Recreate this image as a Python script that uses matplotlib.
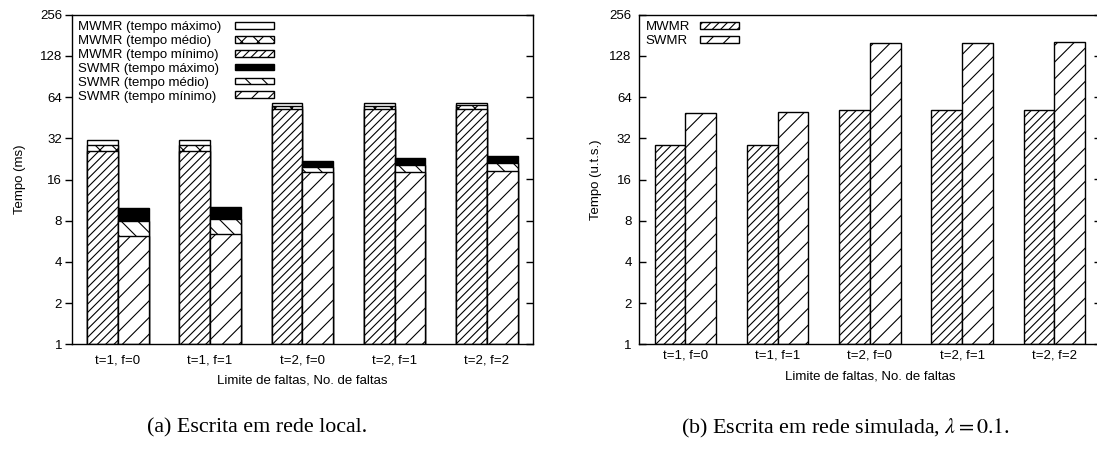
import numpy as np
import matplotlib
matplotlib.use("Agg")
import matplotlib.pyplot as plt
from matplotlib.ticker import FixedLocator, NullLocator

plt.rcParams['font.family'] = ['Liberation Sans', 'DejaVu Sans']
plt.rcParams['mathtext.fontset'] = 'stix'
plt.rcParams['hatch.linewidth'] = 0.8

categories = ['t=1, f=0', 't=1, f=1', 't=2, f=0', 't=2, f=1', 't=2, f=2']

# (a) rede local, tempos em ms
mwmr_max = [31.1, 31.1, 57.7, 57.7, 58.3]
mwmr_avg = [28.4, 28.4, 55.0, 55.4, 56.1]
mwmr_min = [26.0, 26.0, 52.7, 52.7, 52.7]
swmr_max = [9.9, 10.1, 21.9, 23.1, 23.8]
swmr_avg = [8.0, 8.2, 19.9, 20.5, 21.0]
swmr_min = [6.2, 6.4, 18.3, 18.1, 18.5]

# (b) rede simulada, u.t.s.
sim_mwmr = [28.4, 28.4, 51.5, 51.5, 51.5]
sim_swmr = [48.7, 49.6, 159.8, 160.0, 161.0]

yticks = [1, 2, 4, 8, 16, 32, 64, 128, 256]

W, H = 1097, 454
fig = plt.figure(figsize=(W / 100, H / 100), dpi=100)
axl = fig.add_axes([71.7 / W, (H - 344.3) / H, 461.3 / W, 329.6 / H])
axr = fig.add_axes([639.3 / W, (H - 344.3) / H, 461.3 / W, 329.6 / H])

x = np.arange(len(categories))
bw = 1 / 3
fs = 9.5
edge = dict(edgecolor='black', linewidth=1.0)


def setup(ax, ylabel, tick_dir, xpad, ylpad):
    ax.set_yscale('log', base=2)
    ax.set_ylim(1, 256)
    ax.set_xlim(-0.5, len(categories) - 0.5)
    ax.yaxis.set_major_locator(FixedLocator(yticks))
    ax.yaxis.set_minor_locator(NullLocator())
    ax.set_yticklabels([str(t) for t in yticks])
    ax.set_xticks(x)
    ax.set_xticklabels(categories)
    ax.tick_params(axis='x', length=0, pad=xpad, labelsize=fs)
    ax.tick_params(axis='y', direction=tick_dir, length=5, width=1.0,
                   labelsize=fs, pad=2 if tick_dir == 'out' else 5.5)
    for s in ax.spines.values():
        s.set_linewidth(1.0)
    ax.set_xlabel('Limite de faltas, No. de faltas', fontsize=fs, labelpad=6)
    ax.set_ylabel(ylabel, fontsize=fs, labelpad=ylpad)
    tw = ax.twinx()
    tw.set_yscale('log', base=2)
    tw.set_ylim(1, 256)
    tw.yaxis.set_major_locator(FixedLocator(yticks))
    tw.yaxis.set_minor_locator(NullLocator())
    tw.tick_params(axis='y', direction='in', length=5, width=1.0, labelright=False)
    for s in tw.spines.values():
        s.set_visible(False)


def left_align(leg):
    # text on the left, flush left; keys lined up on the right (gnuplot style)
    r = fig.canvas.get_renderer()
    widths = [t.get_window_extent(r).width for t in leg.texts]
    col = leg._legend_handle_box.get_children()[0]
    col.align = 'left'
    for row, w in zip(col.get_children(), widths):
        row.sep += (max(widths) - w) * 72 / fig.dpi


# --- (a)
xm = x - bw / 2
xs = x + bw / 2
axl.bar(xm, np.array(mwmr_max) - 1, bw, bottom=1, facecolor='white', label='MWMR (tempo máximo)', **edge)
axl.bar(xm, np.array(mwmr_avg) - 1, bw, bottom=1, facecolor='white', hatch='xx', label='MWMR (tempo médio)', **edge)
axl.bar(xm, np.array(mwmr_min) - 1, bw, bottom=1, facecolor='white', hatch='////', label='MWMR (tempo mínimo)', **edge)
axl.bar(xs, np.array(swmr_max) - 1, bw, bottom=1, facecolor='black', label='SWMR (tempo máximo)', **edge)
axl.bar(xs, np.array(swmr_avg) - 1, bw, bottom=1, facecolor='white', hatch='\\\\', label='SWMR (tempo médio)', **edge)
axl.bar(xs, np.array(swmr_min) - 1, bw, bottom=1, facecolor='white', hatch='//', label='SWMR (tempo mínimo)', **edge)
setup(axl, 'Tempo (ms)', 'out', 7, 10)
leg = axl.legend(loc='upper left', frameon=False, fontsize=fs, markerfirst=False,
                 handlelength=3.0, handleheight=0.4, handletextpad=1.0,
                 labelspacing=0.14, borderaxespad=0.2, borderpad=0.3)
left_align(leg)

# --- (b)
axr.bar(xm, np.array(sim_mwmr) - 1, bw, bottom=1, facecolor='white', hatch='////', label='MWMR', **edge)
axr.bar(xs, np.array(sim_swmr) - 1, bw, bottom=1, facecolor='white', hatch='//', label='SWMR', **edge)
setup(axr, 'Tempo (u.t.s.)', 'in', 4, 5)
leg = axr.legend(loc='upper left', frameon=False, fontsize=fs, markerfirst=False,
                 handlelength=3.0, handleheight=0.4, handletextpad=0.7,
                 labelspacing=0.14, borderaxespad=0.2, borderpad=0.3)
left_align(leg)

fig.text(257 / W, 1 - 428 / H, '(a) Escrita em rede local.', ha='center', va='center',
         fontsize=15.8, family='Liberation Serif')
fig.text(846 / W, 1 - 428 / H, r'(b) Escrita em rede simulada, $\lambda = 0.1$.', ha='center', va='center',
         fontsize=15.8, family='Liberation Serif')

fig.savefig('out.png', dpi=100)
